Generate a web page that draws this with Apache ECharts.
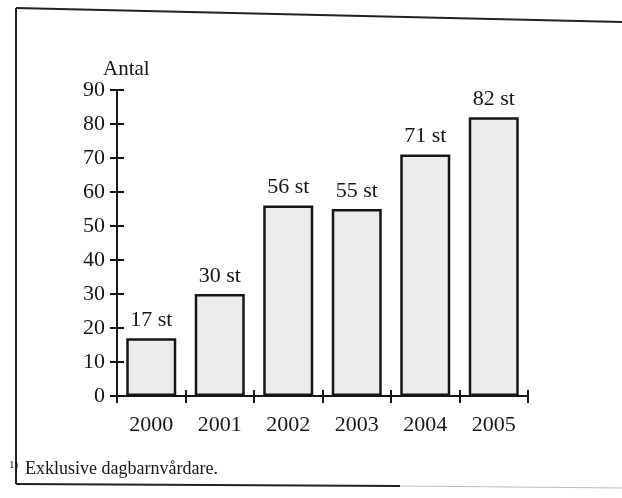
<!DOCTYPE html>
<html>
<head>
<meta charset="utf-8">
<script src="https://cdn.jsdelivr.net/npm/echarts@6/dist/echarts.min.js"></script>
<style>
  html, body { margin: 0; padding: 0; background: #fff; }
  #chart { width: 622px; height: 498px; }
</style>
</head>
<body>
<div id="chart"></div>
<script>
// Antal (st) per år, exklusive dagbarnvårdare
const years = ['2000', '2001', '2002', '2003', '2004', '2005'];
const counts = [17, 30, 56, 55, 71, 82];
const yTicks = [0, 10, 20, 30, 40, 50, 60, 70, 80, 90];

const FONT = '"Liberation Serif", "DejaVu Serif", serif';
const INK = '#161616';

const chart = echarts.init(document.getElementById('chart'));

const valueAxisBase = {
  type: 'value',
  min: yTicks[0],
  max: yTicks[yTicks.length - 1],
  interval: 10,
  splitLine: { show: false },
};

chart.setOption({
  backgroundColor: '#fff',
  animation: false,
  grid: { left: 117, right: 94, top: 90, bottom: 102 },
  title: {
    text: 'Antal',
    left: 98, top: 54,
    textStyle: { fontFamily: FONT, fontSize: 21, fontWeight: 'normal', color: INK },
  },
  xAxis: [
    {
      type: 'category',
      data: years,
      axisLine: { lineStyle: { color: INK, width: 2 } },
      axisTick: { show: true, alignWithLabel: false, length: 7, lineStyle: { color: INK, width: 2 } },
      axisLabel: { fontFamily: FONT, fontSize: 22, color: INK, margin: 18 },
    },
    {
      type: 'category',
      data: years,
      position: 'bottom',
      axisLine: { show: false },
      axisTick: { show: true, inside: true, length: 6, lineStyle: { color: INK, width: 2 } },
      axisLabel: { show: false },
    },
  ],
  yAxis: [
    Object.assign({}, valueAxisBase, {
      axisLine: { show: true, lineStyle: { color: INK, width: 2 } },
      axisTick: { show: true, length: 7, lineStyle: { color: INK, width: 2 } },
      axisLabel: { fontFamily: FONT, fontSize: 22, color: INK, margin: 12 },
    }),
    Object.assign({}, valueAxisBase, {
      position: 'left',
      axisLine: { show: false },
      axisTick: { show: true, inside: true, length: 7, lineStyle: { color: INK, width: 2 } },
      axisLabel: { show: false },
    }),
  ],
  series: [{
    type: 'bar',
    data: counts,
    barWidth: '73%',
    itemStyle: { color: '#ececec', borderColor: INK, borderWidth: 2.5 },
    label: {
      show: true,
      position: 'top',
      distance: 7,
      formatter: p => p.value + ' st',
      fontFamily: FONT, fontSize: 22, color: INK,
    },
  }],
  graphic: [
    // scanned frame
    { type: 'line', shape: { x1: 16, y1: 8, x2: 622, y2: 22 }, style: { stroke: '#222', lineWidth: 2 } },
    { type: 'line', shape: { x1: 16, y1: 8, x2: 16, y2: 484 }, style: { stroke: '#222', lineWidth: 2 } },
    { type: 'line', shape: { x1: 16, y1: 484, x2: 400, y2: 486 }, style: { stroke: '#222', lineWidth: 2 } },
    { type: 'line', shape: { x1: 400, y1: 486, x2: 622, y2: 488 }, style: { stroke: '#bbb', lineWidth: 1 } },
    // footnote
    {
      type: 'text', left: 9, top: 460,
      style: { text: '1)', font: '11px ' + FONT, fill: INK },
    },
    {
      type: 'text', left: 25, top: 460,
      style: { text: 'Exklusive dagbarnvårdare.', font: '18px ' + FONT, fill: INK },
    },
  ],
});
</script>
</body>
</html>
